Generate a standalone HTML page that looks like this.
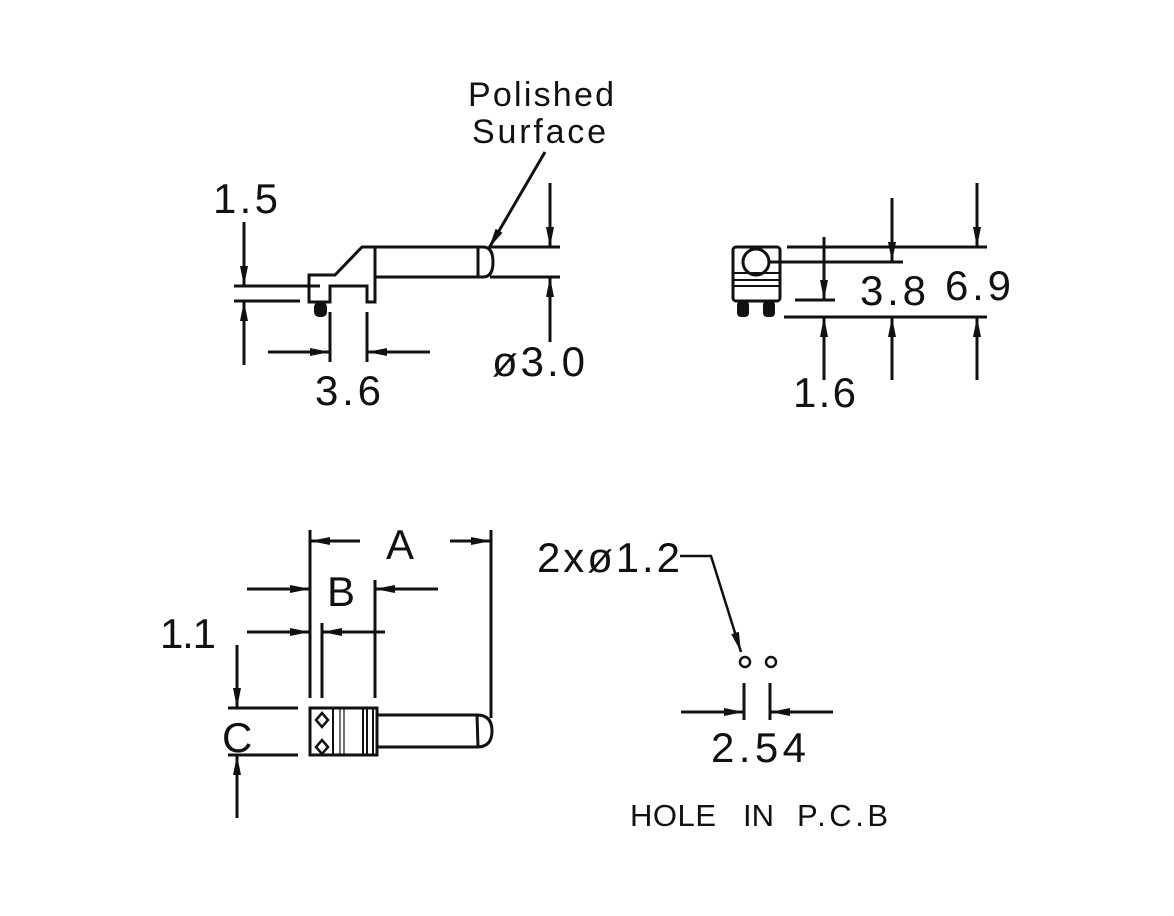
<!DOCTYPE html>
<html><head><meta charset="utf-8"><style>
html,body{margin:0;padding:0;background:#fff;}
svg{display:block;}
text{font-family:"Liberation Sans",sans-serif;fill:#111;}
</style></head><body>
<svg width="1174" height="916" viewBox="0 0 1174 916" xmlns="http://www.w3.org/2000/svg">
<defs>
<marker id="a" viewBox="0 0 20 10" refX="20" refY="5" markerWidth="20" markerHeight="10" markerUnits="userSpaceOnUse" orient="auto">
<path d="M0,1 L20,5 L0,9 Z" fill="#111"/></marker>
</defs>
<g stroke="#111" stroke-width="3" fill="none" stroke-linecap="butt">
<path d="M309,275 L335,275 L362,247 L375,247 L375,302 L367,302 L367,286 L330,286 L330,302 L309,302 Z"/>
<path d="M362,247 L483,247 M375,277 L483,277 M478,247 L478,277"/>
<path d="M483,247 Q493,247 493,262 Q493,277 483,277"/>
<rect x="314" y="302" width="13" height="15" rx="5" fill="#111" stroke="none"/>
<path d="M234,286 L320,286 M234,301 L300,301"/>
<path d="M244,222 L244,286" marker-end="url(#a)"/>
<path d="M244,365 L244,301" marker-end="url(#a)"/>
<path d="M330,312 L330,362 M367,312 L367,362"/>
<path d="M268,352 L330,352" marker-end="url(#a)"/>
<path d="M430,352 L367,352" marker-end="url(#a)"/>
<path d="M490,247 L560,247 M490,277 L560,277"/>
<path d="M550,183 L550,247" marker-end="url(#a)"/>
<path d="M550,342 L550,277" marker-end="url(#a)"/>
<path d="M545,152 L489,248" marker-end="url(#a)"/>
<rect x="733" y="247" width="47" height="54" rx="3"/>
<circle cx="756" cy="262" r="13"/>
<path d="M733,273 L780,273 M733,280 L780,280 M733,286 L780,286" stroke-width="2"/>
<rect x="737" y="301" width="12" height="16" rx="4" fill="#111" stroke="none"/>
<rect x="763" y="301" width="12" height="16" rx="4" fill="#111" stroke="none"/>
<path d="M787,247 L987,247 M768,262 L903,262 M795,300 L835,300 M784,317 L987,317"/>
<path d="M824,237 L824,300" marker-end="url(#a)"/>
<path d="M824,380 L824,317" marker-end="url(#a)"/>
<path d="M892,198 L892,262" marker-end="url(#a)"/>
<path d="M892,380 L892,317" marker-end="url(#a)"/>
<path d="M977,183 L977,247" marker-end="url(#a)"/>
<path d="M977,380 L977,317" marker-end="url(#a)"/>
<path d="M310,530 L310,698 M322,623 L322,698 M375,580 L375,698 M491,530 L491,718"/>
<path d="M360,541 L310,541" marker-end="url(#a)"/>
<path d="M450,541 L491,541" marker-end="url(#a)"/>
<path d="M247,589 L310,589" marker-end="url(#a)"/>
<path d="M438,589 L375,589" marker-end="url(#a)"/>
<path d="M247,632 L310,632" marker-end="url(#a)"/>
<path d="M385,632 L322,632" marker-end="url(#a)"/>
<rect x="310" y="708" width="67" height="47"/>
<path d="M333,708 L333,755 M363,708 L363,755 M367,708 L367,755 M373,708 L373,755" stroke-width="2"/>
<path d="M340,708 L340,755 M344,708 L344,755" stroke-width="1.2"/>
<path d="M322,713 L328,720 L322,727 L316,720 Z M322,740 L328,747 L322,754 L316,747 Z" stroke-width="2.5"/>
<path d="M377,715 L477,715 M377,747 L477,747 M477,715 L478,747"/>
<path d="M477,715 Q492,715 492,731 Q492,747 477,747"/>
<path d="M228,708 L298,708 M228,755 L298,755"/>
<path d="M237,645 L237,708" marker-end="url(#a)"/>
<path d="M237,818 L237,755" marker-end="url(#a)"/>
<path d="M680,556 L711,556 L741,652" marker-end="url(#a)" stroke-width="2.5"/>
<circle cx="745" cy="662" r="5" stroke-width="2.5"/>
<circle cx="771" cy="662" r="5" stroke-width="2.5"/>
<path d="M744,683 L744,720 M770,683 L770,720"/>
<path d="M681,712 L744,712" marker-end="url(#a)"/>
<path d="M833,712 L770,712" marker-end="url(#a)"/>
</g>
<g font-size="42" lengthAdjust="spacing">
<text x="213" y="213" textLength="65">1.5</text>
<text x="315" y="405" textLength="66">3.6</text>
<text x="492" y="376" textLength="93">ø3.0</text>
<text x="860" y="305" textLength="66">3.8</text>
<text x="945" y="300" textLength="66">6.9</text>
<text x="793" y="407" textLength="63">1.6</text>
<text x="386" y="559">A</text>
<text x="327" y="606">B</text>
<text x="160" y="648" textLength="56">1.1</text>
<text x="222" y="752">C</text>
<text x="537" y="572" textLength="143">2xø1.2</text>
<text x="711" y="762" textLength="95">2.54</text>
</g>
<text x="468" y="106" font-size="34" textLength="146" lengthAdjust="spacing">Polished</text>
<text x="472" y="143" font-size="34" textLength="134" lengthAdjust="spacing">Surface</text>
<g font-size="31" lengthAdjust="spacingAndGlyphs">
<text x="630" y="826" textLength="86">HOLE</text>
<text x="743" y="826" textLength="31">IN</text>
<text x="797" y="826" textLength="91">P.C.B</text>
</g>
</svg>
</body></html>
